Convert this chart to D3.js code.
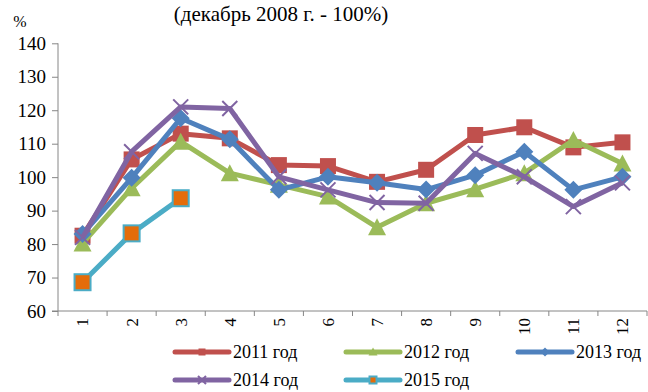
<!DOCTYPE html>
<html><head><meta charset="utf-8">
<script src="https://cdn.jsdelivr.net/npm/d3@7"></script>
<style>body{margin:0;background:#fff}svg{display:block}</style>
</head><body><svg id="c" width="648" height="392" font-family="Liberation Serif"></svg>
<script>
const months = ["1","2","3","4","5","6","7","8","9","10","11","12"];
const yTicks = [60,70,80,90,100,110,120,130,140];
const s2011 = [82.5,105.3,113,111.6,103.6,103.3,98.6,102.2,112.6,114.9,108.9,110.4];
const s2012 = [80.2,96.7,110.6,101.2,97.7,94.2,85,92.2,96.4,101.2,111.1,104.1];
const s2013 = [83,99.8,117.6,111.3,96.2,100.1,98.3,96.3,100.6,107.6,96.2,100.1];
const s2014 = [82,107.6,121,120.5,100.1,96.2,92.4,92.2,107.1,100.1,91.2,98.3];
const s2015 = [68.6,83.2,93.7];
const seriesNames = ["2011 год","2012 год","2013 год","2014 год","2015 год"];
const title = "(декабрь 2008 г. - 100%)";

const series = [
  {name:seriesNames[0], values:s2011, color:"#C0504D", marker:"square"},
  {name:seriesNames[1], values:s2012, color:"#9BBB59", marker:"triangle"},
  {name:seriesNames[2], values:s2013, color:"#4F81BD", marker:"diamond"},
  {name:seriesNames[3], values:s2014, color:"#8064A2", marker:"x"},
  {name:seriesNames[4], values:s2015, color:"#4BACC6", marker:"square2"}
];

const FONT = "Liberation Serif";
const svg = d3.select("#c");
const L=58, R=647, T=43.3, B=311;
const x = d3.scaleBand().domain(months).range([L,R]);
const y = d3.scaleLinear().domain([60,140]).range([B,T]);

svg.append("text").attr("x",281).attr("y",21).attr("text-anchor","middle").attr("font-family",FONT).attr("font-size",21).text(title);
svg.append("text").attr("x",20).attr("y",27).attr("text-anchor","middle").attr("font-family",FONT).attr("font-size",16).text("%");

const ya = svg.append("g").attr("transform",`translate(${L},0)`)
  .call(d3.axisLeft(y).tickValues(yTicks).tickSize(6).tickPadding(6).tickFormat(d3.format("d")));
ya.attr("font-family",FONT).attr("font-size",19);
ya.select(".domain").attr("stroke","#868686").attr("d",`M0,${B}V${T}`);
ya.selectAll(".tick line").attr("stroke","#868686");
ya.selectAll(".tick text").attr("fill","#000");

const xa = svg.append("g").attr("transform",`translate(0,${B})`)
  .call(d3.axisBottom(x).tickSize(0).tickPadding(0));
xa.attr("font-family",FONT).attr("font-size",17);
xa.select(".domain").attr("stroke","#868686").attr("d",`M${L-6},0H${R}`);
xa.selectAll(".tick text").attr("fill","#000").attr("transform","rotate(-90)").attr("x",-7).attr("y",0).attr("dy","0.35em")
  .attr("text-anchor","end");
xa.selectAll(".bt").data(d3.range(months.length+1)).enter().append("line")
  .attr("x1",i=>L+i*x.step()).attr("x2",i=>L+i*x.step()).attr("y1",0).attr("y2",5).attr("stroke","#868686");

function drawMarker(g, type, color, cx, cy, sz){
  const h=sz/2;
  if(type==="square"){
    g.append("rect").attr("x",cx-h).attr("y",cy-h).attr("width",sz).attr("height",sz).attr("fill",color);
  } else if(type==="square2"){
    g.append("rect").attr("x",cx-h).attr("y",cy-h).attr("width",sz).attr("height",sz).attr("fill","#E46C0A").attr("stroke",color).attr("stroke-width",2);
  } else if(type==="triangle"){
    g.append("path").attr("d",`M${cx},${cy-h-1}L${cx+h+1},${cy+h}L${cx-h-1},${cy+h}Z`).attr("fill",color);
  } else if(type==="diamond"){
    g.append("path").attr("d",`M${cx},${cy-h-1}L${cx+h+1},${cy}L${cx},${cy+h+1}L${cx-h-1},${cy}Z`).attr("fill",color);
  } else if(type==="x"){
    g.append("path").attr("d",`M${cx-h},${cy-h}L${cx+h},${cy+h}M${cx-h},${cy+h}L${cx+h},${cy-h}`).attr("stroke",color).attr("stroke-width",2);
  }
}

const line = d3.line().x((d,i)=>x(months[i])+x.bandwidth()/2).y(d=>y(d));
series.forEach(s=>{
  const g = svg.append("g");
  g.append("path").attr("d",line(s.values)).attr("fill","none").attr("stroke",s.color).attr("stroke-width",5).attr("stroke-linejoin","round");
  s.values.forEach((v,i)=>drawMarker(g,s.marker,s.color,x(months[i])+x.bandwidth()/2,y(v),s.marker==="x"?15:16));
});

const legPos = [[175,352],[346,352],[518,352],[175,380],[346,380]];
series.forEach((s,i)=>{
  const [lx,ly]=legPos[i];
  const g=svg.append("g");
  g.append("line").attr("x1",lx).attr("x2",lx+54).attr("y1",ly).attr("y2",ly).attr("stroke",s.color).attr("stroke-width",5).attr("stroke-linecap","round");
  drawMarker(g,s.marker,s.color,lx+27,ly,s.marker==="x"?8:7);
  g.append("text").attr("x",lx+58).attr("y",ly).attr("dy","0.35em").attr("font-family",FONT).attr("font-size",18).attr("fill","#000").text(s.name);
});
</script></body></html>
